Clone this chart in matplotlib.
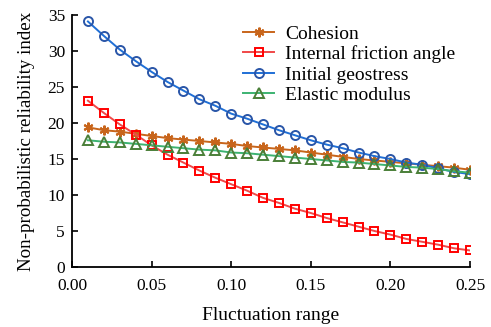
import matplotlib

matplotlib.use("Agg")
import matplotlib.pyplot as plt

plt.rcParams["font.family"] = ["Liberation Serif", "DejaVu Serif"]

# fluctuation range 0.01 .. 0.25
fluct = [0.01, 0.02, 0.03, 0.04, 0.05, 0.06, 0.07, 0.08, 0.09, 0.10,
         0.11, 0.12, 0.13, 0.14, 0.15, 0.16, 0.17, 0.18, 0.19, 0.20,
         0.21, 0.22, 0.23, 0.24, 0.25]

cohesion = [19.4, 19.0, 18.8, 18.5, 18.2, 17.9, 17.7, 17.5, 17.3, 17.1,
            16.8, 16.6, 16.4, 16.2, 15.9, 15.6, 15.3, 15.0, 14.8, 14.6,
            14.4, 14.2, 14.0, 13.8, 13.5]
friction = [23.1, 21.4, 19.8, 18.4, 16.9, 15.6, 14.5, 13.4, 12.4, 11.5,
            10.6, 9.6, 8.9, 8.1, 7.5, 6.8, 6.2, 5.6, 5.0, 4.5,
            3.9, 3.5, 3.1, 2.6, 2.3]
geostress = [34.1, 32.1, 30.2, 28.6, 27.1, 25.7, 24.5, 23.3, 22.4, 21.3,
             20.6, 19.8, 19.0, 18.3, 17.6, 17.0, 16.5, 15.9, 15.4, 15.0,
             14.5, 14.2, 13.7, 13.2, 12.9]
elastic = [17.6, 17.4, 17.3, 17.1, 16.9, 16.7, 16.5, 16.3, 16.2, 15.9,
           15.8, 15.6, 15.4, 15.2, 15.0, 14.8, 14.6, 14.5, 14.3, 14.1,
           13.9, 13.8, 13.6, 13.3, 13.1]

labels = ["Cohesion", "Internal friction angle", "Initial geostress", "Elastic modulus"]
xticks = [0.00, 0.05, 0.10, 0.15, 0.20, 0.25]
yticks = [0, 5, 10, 15, 20, 25, 30, 35]

fig = plt.figure(figsize=(4.91, 3.27), dpi=100)
ax = fig.add_axes([72 / 491, 1 - 267 / 327, (470 - 72) / 491, (267 - 15) / 327])

ms = 6
ax.plot(fluct, cohesion, color="#c8651b", lw=1.4, marker=(6, 2, 0), ms=7,
        mec="#c8651b", mew=1.5, label=labels[0], zorder=3)
ax.plot(fluct, friction, color="#f04848", lw=1.4, marker="s", ms=ms,
        mfc="none", mec="#ff0000", mew=1.4, label=labels[1], zorder=3)
ax.plot(fluct, geostress, color="#1f6fd6", lw=1.4, marker="o", ms=ms + 0.5,
        mfc="none", mec="#2a56a8", mew=1.4, label=labels[2], zorder=3)
ax.plot(fluct, elastic, color="#3cb371", lw=1.4, marker="^", ms=ms + 0.5,
        mfc="none", mec="#4a7f38", mew=1.4, label=labels[3], zorder=3)

ax.set_xlim(0, 0.25)
ax.set_ylim(0, 35)
ax.set_xticks(xticks)
ax.set_yticks(yticks)
ax.set_xticklabels([f"{t:.2f}" for t in xticks])
ax.tick_params(direction="in", length=4, width=1.2, labelsize=12.5)
ax.tick_params(axis="x", pad=8)
ax.tick_params(axis="y", pad=5)
for side in ("top", "right"):
    ax.spines[side].set_visible(False)
for side in ("left", "bottom"):
    ax.spines[side].set_linewidth(1.3)

ax.set_xlabel("Fluctuation range", fontsize=14, labelpad=9)
ax.set_ylabel("Non-probabilistic reliability index", fontsize=13.7, labelpad=9)

ax.legend(loc="upper left", bbox_to_anchor=(0.43, 0.96), frameon=False,
          fontsize=14, handlelength=1.6, handletextpad=0.55,
          labelspacing=0.14, borderaxespad=0.0, borderpad=0.0)

fig.savefig("out.png", dpi=100)
